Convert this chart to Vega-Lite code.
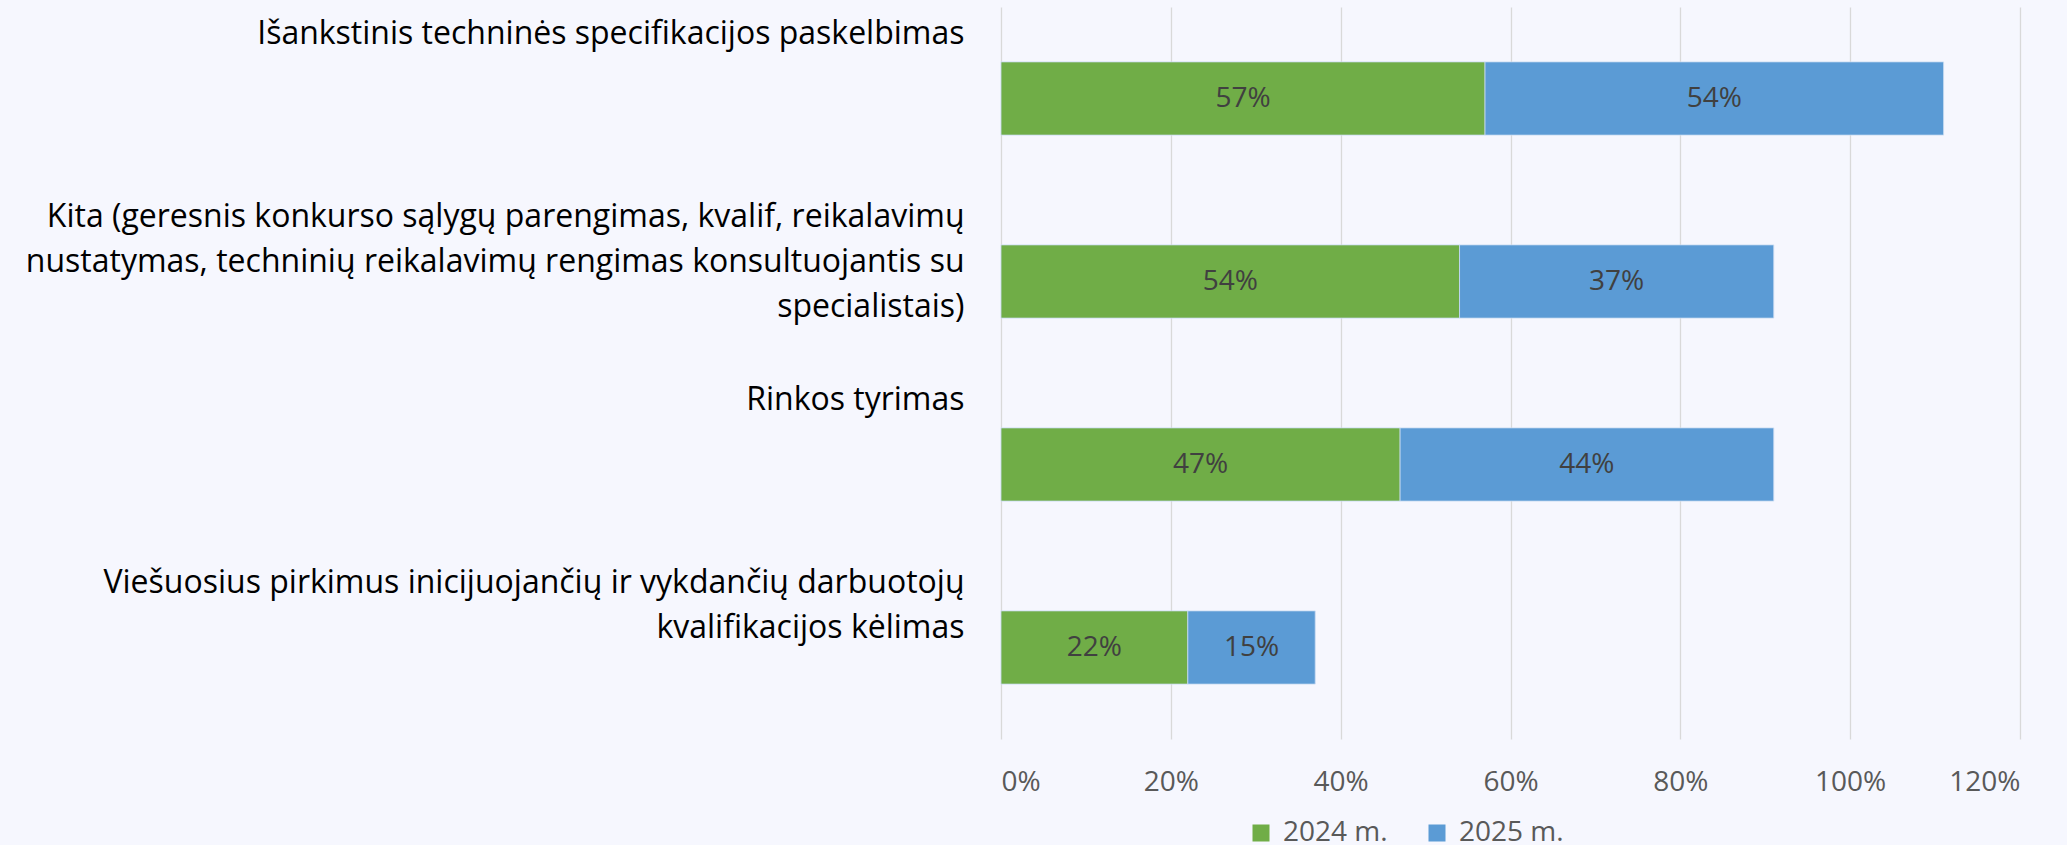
{
  "$schema": "https://vega.github.io/schema/vega-lite/v6.json",
  "autosize": "none",
  "padding": {"left": 1001, "top": 7, "right": 47, "bottom": 106},
  "width": 1019,
  "height": 732,
  "background": "#F6F7FE",
  "config": {
    "view": {"stroke": null},
    "font": "Open Sans"
  },
  "data": {
    "values": [
      {"category": "Išankstinis techninės specifikacijos paskelbimas", "year": "2024 m.", "order": 1, "value": 0.57},
      {"category": "Išankstinis techninės specifikacijos paskelbimas", "year": "2025 m.", "order": 2, "value": 0.54},
      {"category": "Kita (geresnis konkurso sąlygų parengimas, kvalif, reikalavimų|nustatymas, techninių reikalavimų rengimas konsultuojantis su|specialistais)", "year": "2024 m.", "order": 1, "value": 0.54},
      {"category": "Kita (geresnis konkurso sąlygų parengimas, kvalif, reikalavimų|nustatymas, techninių reikalavimų rengimas konsultuojantis su|specialistais)", "year": "2025 m.", "order": 2, "value": 0.37},
      {"category": "Rinkos tyrimas", "year": "2024 m.", "order": 1, "value": 0.47},
      {"category": "Rinkos tyrimas", "year": "2025 m.", "order": 2, "value": 0.44},
      {"category": "Viešuosius pirkimus inicijuojančių ir vykdančių darbuotojų|kvalifikacijos kėlimas", "year": "2024 m.", "order": 1, "value": 0.22},
      {"category": "Viešuosius pirkimus inicijuojančių ir vykdančių darbuotojų|kvalifikacijos kėlimas", "year": "2025 m.", "order": 2, "value": 0.15}
    ]
  },
  "transform": [
    {"stack": "value", "groupby": ["category"], "sort": [{"field": "order", "order": "ascending"}], "as": ["v0", "v1"]},
    {"calculate": "(datum.v0 + datum.v1) / 2", "as": "mid"}
  ],
  "encoding": {
    "y": {
      "field": "category",
      "type": "nominal",
      "sort": null,
      "scale": {"paddingInner": 0.6, "paddingOuter": 0.3},
      "axis": {
        "title": null,
        "domain": false,
        "ticks": false,
        "tickSize": 0,
        "grid": false,
        "labelBaseline": "top",
        "labelOffset": -80,
        "labelPadding": 37,
        "labelAlign": "right",
        "labelExpr": "split(datum.label, '|')",
        "labelLimit": 1000,
        "labelFont": "Open Sans",
        "labelFontSize": 32,
        "labelLineHeight": 45,
        "labelColor": "#000000"
      }
    }
  },
  "layer": [
    {
      "mark": {"type": "bar", "stroke": "#C9DCF2", "strokeWidth": 0.8},
      "encoding": {
        "x": {
          "field": "v0",
          "type": "quantitative",
          "scale": {"domain": [0, 1.2], "nice": false, "zero": true},
          "axis": {
            "title": null,
            "format": ".0%",
            "values": [0, 0.2, 0.4, 0.6, 0.8, 1.0, 1.2],
            "domain": false,
            "ticks": false,
            "tickSize": 0,
            "grid": true,
            "gridColor": "#D9D9D9",
            "gridWidth": 1.3,
            "labelPadding": 29,
            "labelFont": "Open Sans",
            "labelFontSize": 28,
            "labelColor": "#595959"
          }
        },
        "x2": {"field": "v1"},
        "color": {
          "field": "year",
          "type": "nominal",
          "scale": {"domain": ["2024 m.", "2025 m."], "range": ["#70AD47", "#5B9BD5"]},
          "legend": {
            "title": null,
            "orient": "none",
            "direction": "horizontal",
            "legendX": 246,
            "legendY": 812,
            "symbolType": "square",
            "symbolSize": 289,
            "symbolStrokeWidth": 0,
            "labelFont": "Open Sans",
            "labelFontSize": 28,
            "labelColor": "#595959",
            "labelOffset": 8,
            "columnPadding": 35
          }
        }
      }
    },
    {
      "mark": {"type": "text", "align": "center", "baseline": "middle", "font": "Open Sans", "fontSize": 28, "color": "#404040"},
      "encoding": {
        "x": {"field": "mid", "type": "quantitative"},
        "text": {"field": "value", "type": "quantitative", "format": ".0%"}
      }
    }
  ]
}
